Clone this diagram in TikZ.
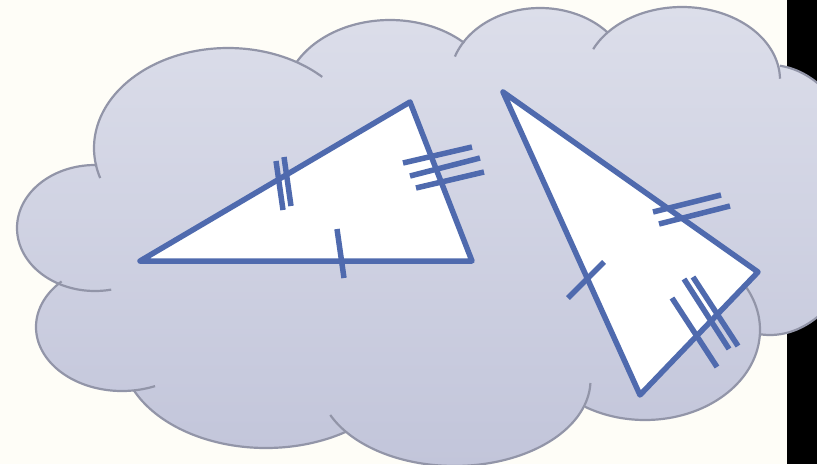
\documentclass[tikz,border=0pt]{standalone}
\definecolor{bgcream}{RGB}{254,253,247}
\definecolor{cloudtop}{RGB}{220,222,234}
\definecolor{cloudbot}{RGB}{194,197,218}
\definecolor{cloudedge}{RGB}{146,149,168}
\definecolor{triblue}{RGB}{79,106,174}
\newcommand\lobearc[6]{\draw[cloudline] plot[domain=#5:#6,samples=90,variable=\t]({#1+#3*cos(\t)},{#2+#4*sin(\t)});}
\tikzset{
  cloudline/.style={draw=cloudedge,line width=2.2pt},
  tri/.style={draw=triblue,fill=white,line width=5.5pt,line join=round},
  tick/.style={draw=triblue,line width=5.5pt},
}
\begin{document}
\begin{tikzpicture}[x=1pt,y=-1pt]
\useasboundingbox (0,0) rectangle (817,464);
\clip (0,0) rectangle (817,464);
\fill[bgcream] (0,0) rectangle (817,464);
\fill[black] (787,0) rectangle (817,464);
% cloud fill
\begin{scope}
\clip (228,148) ellipse [x radius=134, y radius=100]
      (95,228) ellipse [x radius=78, y radius=63]
      (122,327) ellipse [x radius=86, y radius=64]
      (266,350) ellipse [x radius=145, y radius=98]
      (454.5,380) ellipse [x radius=136, y radius=86]
      (645,330) ellipse [x radius=115, y radius=90]
      (770,200) ellipse [x radius=95, y radius=135]
      (682,80) ellipse [x radius=98, y radius=73]
      (540,80) ellipse [x radius=90, y radius=72]
      (390,100) ellipse [x radius=106, y radius=80]
      (420,240) ellipse [x radius=320, y radius=150];
\shade[top color=cloudtop,bottom color=cloudbot] (0,7) rectangle (817,466);
\end{scope}
% cloud outline
\lobearc{228}{148}{134}{100}{162.5}{314.7}
\lobearc{95}{228}{78}{63}{78}{271.5}
\lobearc{122}{327}{86}{64}{67.4}{225.4}
\lobearc{266}{350}{145}{98}{56.5}{155.9}
\lobearc{454.5}{380}{136}{86}{2}{156}
\lobearc{645}{330}{115}{90}{-28}{121.5}
\lobearc{770}{200}{95}{135}{-84}{96}
\lobearc{682}{80}{98}{73}{205}{359}
\lobearc{540}{80}{90}{72}{199}{319}
\lobearc{390}{100}{106}{80}{208}{314.5}
% triangle 1
\coordinate (a1) at (140,261);
\coordinate (b1) at (410,102);
\coordinate (c1) at (472,261);
\draw[tri] (a1) -- (b1) -- (c1) -- cycle;
\draw[tick] (276,161) -- (283,210);
\draw[tick] (284,157) -- (291,206);
\draw[tick] (403,163) -- (472,147);
\draw[tick] (410,176) -- (480,158);
\draw[tick] (416,188) -- (484,172);
\draw[tick] (337,229) -- (344,278);
% triangle 2
\coordinate (a2) at (503,92);
\coordinate (b2) at (758,272);
\coordinate (c2) at (640,395);
\draw[tri] (a2) -- (b2) -- (c2) -- cycle;
\draw[tick] (653,212) -- (721,195);
\draw[tick] (659,224) -- (730,206);
\draw[tick] (568,298) -- (604,262);
\draw[tick] (672,298) -- (717,367);
\draw[tick] (684,279) -- (729,349);
\draw[tick] (693,277) -- (738,346);
\end{tikzpicture}
\end{document}
